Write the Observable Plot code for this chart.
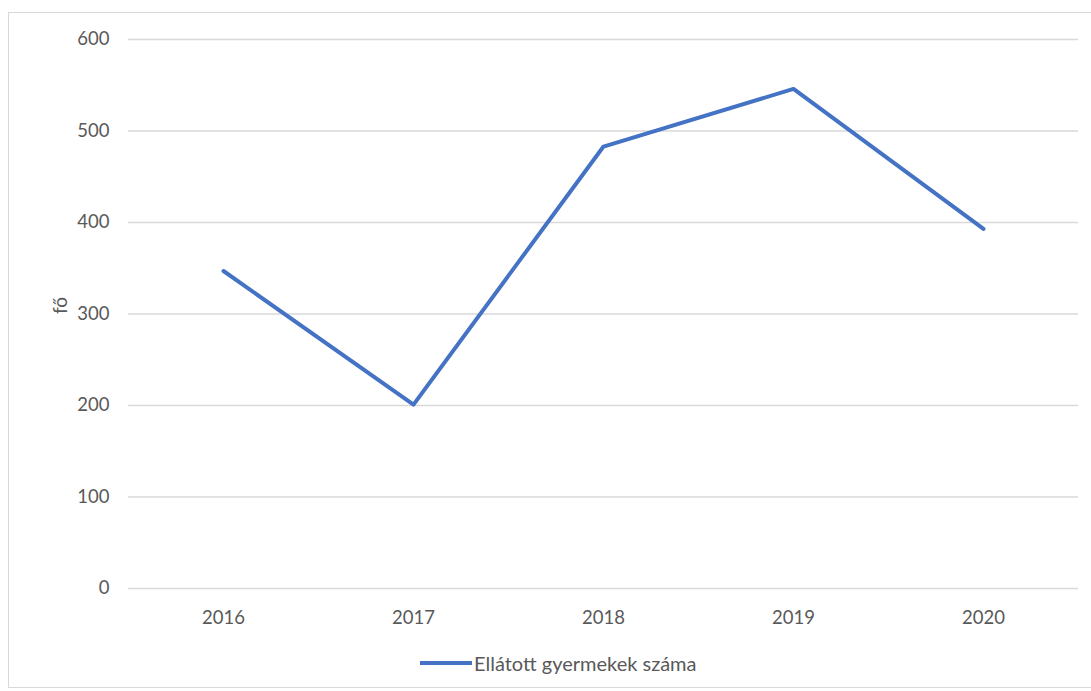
<!DOCTYPE html>
<html>
<head>
<meta charset="utf-8">
<script src="https://cdn.jsdelivr.net/npm/d3@7"></script>
<script src="https://cdn.jsdelivr.net/npm/@observablehq/plot@0.6"></script>
<style>
  html, body { margin: 0; padding: 0; background: #fff; }
  #wrap { position: relative; width: 1091px; height: 691px; overflow: hidden; font-family: Lato, "Open Sans", sans-serif; }
  #frame { position: absolute; left: 8px; top: 12px; width: 1090px; height: 676px; border: 1.5px solid #d9d9d9; box-sizing: border-box; }
  #chart { position: absolute; left: 0; top: 0; }
  #legend { position: absolute; left: 420px; top: 651px; display: flex; align-items: center; font-size: 20px; color: #595959; }
  #legend .sw { width: 52px; height: 4px; background: #4472C4; margin-right: 2px; }
</style>
</head>
<body>
<div id="wrap">
  <div id="frame"></div>
  <div id="chart"></div>
  <div id="legend"><span class="sw"></span><span>Ellátott gyermekek száma</span></div>
</div>
<script>
const years = ["2016", "2017", "2018", "2019", "2020"];
const values = [347, 201, 483, 546, 393];
const yTicks = [0, 100, 200, 300, 400, 500, 600];
const yLabel = "fő";
const seriesName = "Ellátott gyermekek száma";

const data = years.map((y, i) => ({year: y, value: values[i]}));

const chart = Plot.plot({
  width: 1091,
  height: 640,
  marginTop: 39,
  marginBottom: 52,
  marginLeft: 128,
  marginRight: 13,
  style: {fontFamily: "Lato, 'Open Sans', sans-serif", fontSize: "18.5px", color: "#595959", background: "transparent"},
  x: {type: "point", domain: years, padding: 0.5, label: null},
  y: {domain: [0, 600], ticks: yTicks, label: null},
  marks: [
    Plot.gridY(yTicks, {stroke: "#d9d9d9", strokeOpacity: 1, strokeWidth: 1.5}),
    Plot.axisY(yTicks, {tickSize: 0, tickPadding: 19, label: null, fill: "#595959"}),
    Plot.axisX({tickSize: 0, tickPadding: 22, label: null, fill: "#595959"}),
    Plot.text([yLabel], {frameAnchor: "left", dx: -68, rotate: -90, fontSize: 19, fill: "#595959"}),
    Plot.line(data, {x: "year", y: "value", stroke: "#4472C4", strokeWidth: 4, strokeLinejoin: "round", strokeLinecap: "round"})
  ]
});
document.getElementById("chart").appendChild(chart);
</script>
</body>
</html>
